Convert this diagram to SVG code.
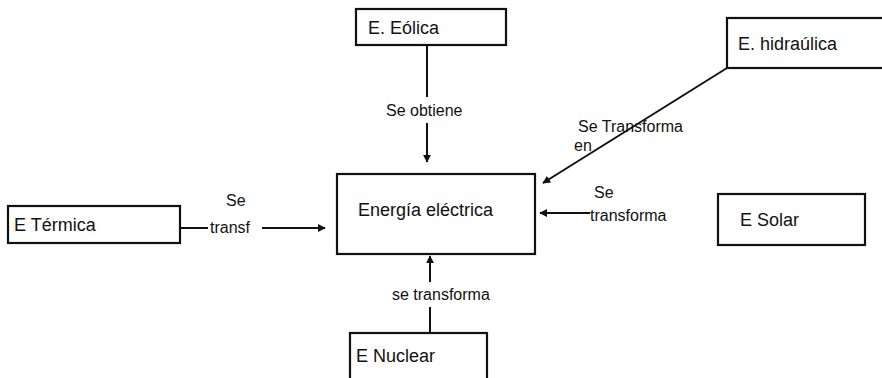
<svg xmlns="http://www.w3.org/2000/svg" width="882" height="378" viewBox="0 0 882 378">
<defs>
<marker id="ah" viewBox="0 0 10 10" refX="9" refY="5" markerWidth="8" markerHeight="8" orient="auto-start-reverse" markerUnits="userSpaceOnUse">
<path d="M0,0 L10,5 L0,10 z" fill="#111"/>
</marker>
<style>
.box{fill:#fff;stroke:#111;stroke-width:2.2}
.t{font-family:"Liberation Sans","DejaVu Sans",sans-serif;fill:#111;font-size:18px}
.l{font-family:"Liberation Sans","DejaVu Sans",sans-serif;fill:#111;font-size:16px}
.c{stroke:#111;stroke-width:2;fill:none}
</style>
</defs>
<rect width="882" height="378" fill="#fff"/>
<g id="connectors">
<line class="c" x1="427" y1="45" x2="427" y2="97"/>
<line class="c" x1="427" y1="123" x2="427" y2="162" marker-end="url(#ah)"/>
<text class="l" x="386" y="116">Se obtiene</text>
<line class="c" x1="727" y1="68" x2="543" y2="183" marker-end="url(#ah)"/>
<text class="l" x="578" y="132">Se Transforma</text>
<text class="l" x="574" y="151">en</text>
<line class="c" x1="180" y1="228" x2="208" y2="228"/>
<line class="c" x1="262" y1="228" x2="325" y2="228" marker-end="url(#ah)"/>
<text class="l" x="226" y="206">Se</text>
<text class="l" x="210" y="233">transf</text>
<line class="c" x1="590" y1="213" x2="540" y2="213" marker-end="url(#ah)"/>
<text class="l" x="594" y="198">Se</text>
<text class="l" x="590" y="221">transforma</text>
<line class="c" x1="430" y1="332" x2="430" y2="307"/>
<line class="c" x1="430" y1="282" x2="430" y2="256" marker-end="url(#ah)"/>
<text class="l" x="392" y="300">se transforma</text>
</g>
<g id="eolica">
<rect class="box" x="356" y="9" width="150" height="36"/>
<text class="t" x="368" y="34">E. Eólica</text>
</g>
<g id="hidraulica">
<rect class="box" x="727" y="18" width="160" height="50"/>
<text class="t" x="738" y="50">E. hidraúlica</text>
</g>
<g id="electrica">
<rect class="box" x="337" y="174" width="198" height="80"/>
<text class="t" x="358" y="216">Energía eléctrica</text>
</g>
<g id="termica">
<rect class="box" x="8" y="206" width="172" height="37"/>
<text class="t" x="14" y="231">E Térmica</text>
</g>
<g id="solar">
<rect class="box" x="718" y="194" width="147" height="51"/>
<text class="t" x="740" y="226">E Solar</text>
</g>
<g id="nuclear">
<rect class="box" x="350" y="333" width="137" height="50"/>
<text class="t" x="356" y="362">E Nuclear</text>
</g>
</svg>
